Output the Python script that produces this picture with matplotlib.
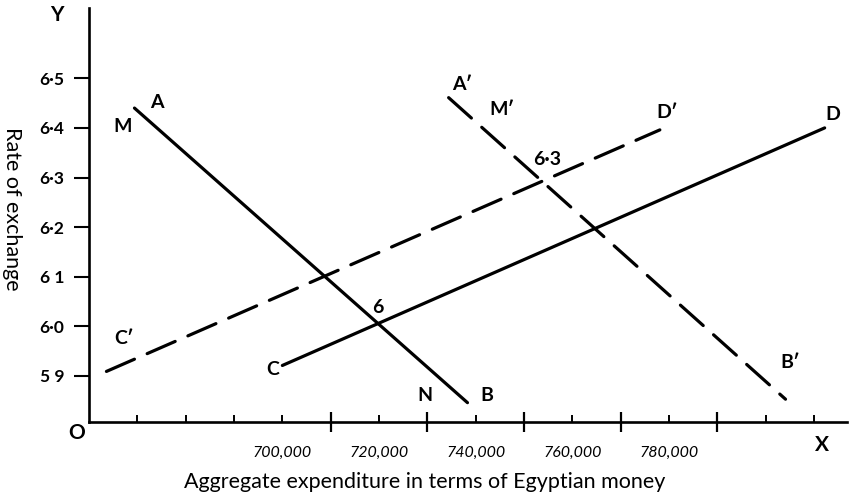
import matplotlib
matplotlib.use("Agg")
import matplotlib.pyplot as plt

plt.rcParams['font.family'] = ['Lato', 'DejaVu Sans']
plt.rcParams['lines.scale_dashes'] = False

# schedule lines (expenditure, rate of exchange), end points
ab_x = [669400, 738300]
ab_y = [6.440, 5.846]
cd_x = [700000, 812200]
cd_y = [5.921, 6.400]
ab2_x = [734400, 804100]   # A'B'
ab2_y = [6.461, 5.853]
cd2_x = [663600, 778100]   # C'D'
cd2_y = [5.909, 6.396]

y_ticks = [5.9, 6.0, 6.1, 6.2, 6.3, 6.4, 6.5]
y_labels = ['5 9', '6·0', '6 1', '6·2', '6·3', '6·4', '6·5']
x_short = [670000, 680000, 690000, 700000, 720000, 740000, 760000, 780000, 800000, 810000]
x_labels = ['', '', '', '700,000', '720,000', '740,000', '760,000', '780,000', '', '']
x_long = [710000, 730000, 750000, 770000, 790000]

fig = plt.figure(figsize=(8.52, 4.93), dpi=100)
ax = fig.add_axes([0.1045, 0.144, 0.8895, 0.84])

dash = (0, (22, 10))
ax.plot(ab_x, ab_y, color='black', lw=2.3, solid_capstyle='round')
ax.plot(cd_x, cd_y, color='black', lw=2.3, solid_capstyle='round')
ax.plot(ab2_x, ab2_y, color='black', lw=2.3, linestyle=dash, dash_capstyle='round')
ax.plot(cd2_x, cd2_y, color='black', lw=2.3, linestyle=dash, dash_capstyle='round')

ax.set_xlim(660000, 816800)
ax.set_ylim(5.807, 6.642)

for s in ['top', 'right']:
    ax.spines[s].set_visible(False)
for s in ['left', 'bottom']:
    ax.spines[s].set_linewidth(1.9)

ax.set_yticks(y_ticks)
ax.set_yticklabels(y_labels, fontsize=12.5, fontweight='bold')
ax.tick_params(axis='y', direction='out', length=11, width=1.5, pad=7)

ax.set_xticks(x_short)
ax.set_xticklabels(x_labels, fontsize=11.5, fontstyle='italic')
ax.set_xticks(x_long, minor=True)
ax.tick_params(axis='x', which='major', direction='in', length=5, width=1.4, pad=17)
ax.tick_params(axis='x', which='minor', direction='inout', length=15, width=1.6)

ax.set_xlabel('Aggregate expenditure in terms of Egyptian money', fontsize=15.5)
ax.xaxis.set_label_coords(0.443, -0.12)
fig.text(0.014, 0.576, 'Rate of exchange', rotation=270, ha='center', va='center', fontsize=15.5)

letters = [
    ('M', 666900, 6.403), ('A', 674100, 6.451), ('N', 729600, 5.861), ('B', 742400, 5.861),
    ('C', 697900, 5.912), ('6', 719700, 6.037), ("C'", 667300, 5.976), ("A'", 737300, 6.487),
    ("M'", 745500, 6.437), ('6·3', 754700, 6.336), ("D'", 779700, 6.431), ('D', 813900, 6.427),
    ("B'", 805000, 5.926),
]
for t, x, y in letters:
    ax.text(x, y, t.replace("'", "′"), ha='center', va='center', fontsize=14, fontweight='bold')

fig.text(0.067, 0.970, 'Y', ha='center', va='center', fontsize=15, fontweight='bold')
fig.text(0.0904, 0.122, 'O', ha='center', va='center', fontsize=15, fontweight='bold')
fig.text(0.965, 0.097, 'X', ha='center', va='center', fontsize=15, fontweight='bold')

fig.savefig('out.png', dpi=100)
